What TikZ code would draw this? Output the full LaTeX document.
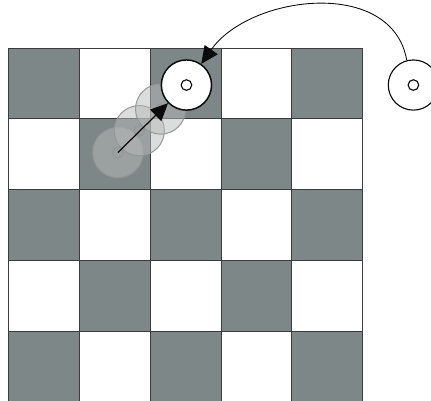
\documentclass[tikz,border=0pt]{standalone}
\usetikzlibrary{arrows.meta}
\definecolor{board}{HTML}{7E8787}
\definecolor{gridline}{HTML}{3C3C3C}
\definecolor{ghostfill}{HTML}{B8BABA}
\definecolor{ghostline}{HTML}{969696}
\definecolor{ink}{HTML}{0B0B0B}

\begin{document}
\begin{tikzpicture}[
  >={Triangle[length=7pt, width=6.4pt]},
  cell/.style={draw=gridline, line width=0.4pt},
  puck/.style={circle, draw=ink, fill=white, line width=0.6pt, minimum size=7.1mm, inner sep=0pt},
  hole/.style={circle, draw=ink, fill=white, line width=0.45pt, minimum size=1.5mm, inner sep=0pt},
  ghost/.style={circle, draw=ghostline, fill=ghostfill, fill opacity=0.5, line width=0.4pt, minimum size=7.1mm, inner sep=0pt},
  ghosthole/.style={circle, draw=ghostline, line width=0.4pt, minimum size=1.5mm, inner sep=0pt},
  move/.style={->, draw=ink, line width=0.5pt},
  jump/.style={->, draw=ink, line width=0.35pt}
]
\useasboundingbox (-0.127,0.025) rectangle (5.969,5.683);

% board
\foreach \i in {0,...,4}
  \foreach \j in {0,...,4} {
    \pgfmathtruncatemacro{\odd}{mod(\i+\j,2)}
    \ifnum\odd=0 \def\cellfill{board}\else\def\cellfill{white}\fi
    \draw[cell, fill=\cellfill] (\i,\j) rectangle ++(1,1);
  }

% trail of the sliding puck
\node[ghost] (g1) at (1.54,3.525) {};
\node[ghosthole] (g1h) at (g1) {};
\node[ghost] (g2) at (1.843,3.835) {};
\node[ghosthole] (g2h) at (g2) {};
\node[ghost] (g3) at (2.145,4.14) {};
\node[ghosthole] (g3h) at (g3) {};

% puck and target
\node[puck] (p) at (2.51,4.48) {};
\node[hole] (ph) at (p) {};
\node[puck, line width=0.45pt] (t) at (5.72,4.48) {};
\node[hole] (th) at (t) {};

\draw[move] (g1.center) -- (p);
\draw[jump] (t.105) to[out=100, in=55, looseness=1.05] (p.55);

\end{tikzpicture}
\end{document}
